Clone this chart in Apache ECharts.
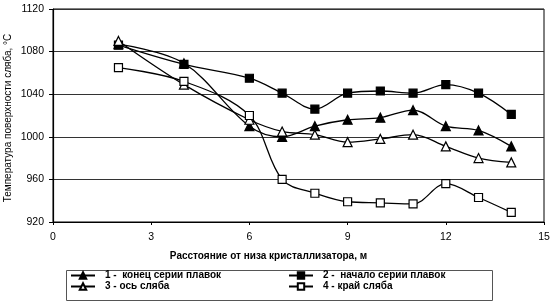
<!DOCTYPE html>
<html><head><meta charset="utf-8">
<script src="https://cdn.jsdelivr.net/npm/echarts@6/dist/echarts.min.js"></script>
<style>html,body{margin:0;padding:0;background:#fff}#c{width:553px;height:307px}</style>
</head><body><div id="c"></div>
<script>
const xValues = [2, 4, 6, 7, 8, 9, 10, 11, 12, 13, 14];
const endSeries = [1087, 1069, 1010, 1000, 1010, 1016, 1018, 1025, 1010, 1006, 991];
const startSeries = [1086, 1068, 1055, 1041, 1026, 1041, 1043, 1041, 1049, 1041, 1021];
const axisSeries = [1090, 1049, 1016, 1005, 1002, 995, 998, 1002, 991, 980, 976];
const edgeSeries = [1065, 1052, 1020, 960, 947, 939, 938, 937, 956, 943, 929];
const seriesNames = ['1 -  конец серии плавок', '2 -  начало серии плавок', '3 - ось сляба', '4 - край сляба'];
const xTitle = 'Расстояние от низа кристаллизатора, м';
const yTitle = 'Температура поверхности сляба, °C';

const font = 'Liberation Sans, Arial, sans-serif';
function pts(v){ return xValues.map((x,i)=>[x, v[i]]); }
function mk(name, data, symbol, filled){
  return {
    name, type:'line', data: pts(data), smooth:0.35,
    symbol, symbolSize: symbol==='triangle'?9:8,
    lineStyle:{color:'#000', width:1.3},
    itemStyle:{color: filled?'#000':'#fff', borderColor:'#000', borderWidth:1.2},
    emphasis:{disabled:true}
  };
}
const chart = echarts.init(document.getElementById('c'));
const legendText = {fontFamily:font, fontSize:10, fontWeight:'bold', color:'#000', width:186, padding:[0,0,0,5], lineHeight:11};
chart.setOption({
  animation:false,
  grid:{left:53, right:9, top:9, bottom:85, show:true, borderColor:'#000', borderWidth:1, containLabel:false, outerBoundsMode:'none'},
  xAxis:{type:'value', min:0, max:15, interval:3,
    name:xTitle, nameLocation:'middle', nameGap:29,
    nameTextStyle:{fontFamily:font, fontSize:10, fontWeight:'bold', color:'#000', padding:[0,60,0,0]},
    axisLine:{lineStyle:{color:'#000', width:1}},
    axisTick:{show:true, length:3, lineStyle:{color:'#000'}},
    axisLabel:{fontFamily:font, fontSize:10.5, color:'#000', margin:10},
    splitLine:{show:false}},
  yAxis:{type:'value', min:920, max:1120, interval:40,
    axisLine:{show:true, lineStyle:{color:'#000', width:1.2}},
    axisTick:{show:true, length:4, lineStyle:{color:'#000'}},
    axisLabel:{fontFamily:font, fontSize:10.5, color:'#000', margin:9, formatter:v=>String(v)},
    splitLine:{show:true, lineStyle:{color:'#333', width:1}}},
  legend:[
    {data:[seriesNames[0], seriesNames[2]], orient:'vertical', left:70, top:270, itemGap:0, padding:0,
     itemWidth:24, itemHeight:8, textStyle:legendText, selectedMode:false},
    {data:[seriesNames[1], seriesNames[3]], orient:'vertical', left:288, top:270, itemGap:0, padding:0,
     itemWidth:24, itemHeight:8, textStyle:legendText, selectedMode:false}
  ],
  graphic:[
    {type:'rect', left:64, top:268, shape:{width:426, height:30},
     style:{fill:'none', stroke:'#555', lineWidth:1}, silent:true},
    {type:'text', x:8, y:118, rotation:Math.PI/2, silent:true,
     style:{text:yTitle, fontFamily:font, fontSize:10, fill:'#000', align:'center', verticalAlign:'middle'}}
  ],
  series:[
    mk(seriesNames[0], endSeries, 'triangle', true),
    mk(seriesNames[1], startSeries, 'rect', true),
    mk(seriesNames[2], axisSeries, 'triangle', false),
    mk(seriesNames[3], edgeSeries, 'rect', false)
  ]
});
</script></body></html>
